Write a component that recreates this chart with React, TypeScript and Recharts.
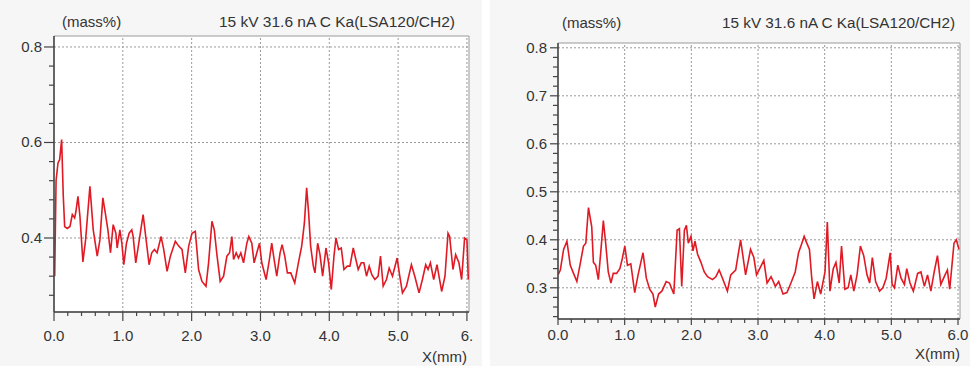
import { LineChart, Line, XAxis, YAxis, ReferenceLine, ReferenceArea } from "recharts";

// left profile (mass% vs X mm)
const leftX = [
  0.01, 0.03, 0.058, 0.082, 0.111, 0.135, 0.155, 0.193, 0.232, 0.266, 0.3, 0.319, 0.348, 0.377, 0.42, 0.459,
  0.522, 0.57, 0.628, 0.667, 0.71, 0.749, 0.783, 0.821, 0.86, 0.899, 0.918, 0.957, 0.986, 1.014, 1.053, 1.092,
  1.13, 1.15, 1.188, 1.232, 1.295, 1.333, 1.382, 1.42, 1.459, 1.498, 1.556, 1.594, 1.643, 1.691, 1.763, 1.812,
  1.86, 1.908, 1.957, 2.005, 2.053, 2.101, 2.15, 2.208, 2.246, 2.295, 2.329, 2.367, 2.415, 2.464, 2.512, 2.551,
  2.585, 2.609, 2.647, 2.681, 2.715, 2.754, 2.802, 2.831, 2.874, 2.908, 2.947, 2.986, 3.019, 3.082, 3.13, 3.164,
  3.198, 3.237, 3.285, 3.314, 3.353, 3.391, 3.44, 3.498, 3.551, 3.599, 3.638, 3.671, 3.7, 3.729, 3.768, 3.792,
  3.831, 3.865, 3.903, 3.952, 3.99, 4.029, 4.068, 4.097, 4.135, 4.174, 4.213, 4.261, 4.3, 4.348, 4.386, 4.42,
  4.464, 4.502, 4.541, 4.58, 4.618, 4.662, 4.71, 4.744, 4.783, 4.831, 4.87, 4.918, 4.986, 5.024, 5.063, 5.121,
  5.193, 5.242, 5.304, 5.353, 5.401, 5.435, 5.469, 5.517, 5.565, 5.594, 5.633, 5.681, 5.725, 5.749, 5.797, 5.836,
  5.884, 5.923, 5.966, 6.0, 6.02,
];
const leftY = [
  0.32, 0.52, 0.557, 0.564, 0.606, 0.487, 0.424, 0.42, 0.424, 0.449, 0.442, 0.456, 0.487, 0.445, 0.35, 0.396,
  0.508, 0.417, 0.362, 0.396, 0.484, 0.449, 0.417, 0.369, 0.428, 0.41, 0.379, 0.417, 0.389, 0.344, 0.389, 0.41,
  0.417, 0.403, 0.348, 0.389, 0.449, 0.403, 0.344, 0.369, 0.376, 0.369, 0.403, 0.376, 0.33, 0.362, 0.393, 0.383,
  0.376, 0.327, 0.383, 0.41, 0.414, 0.334, 0.309, 0.299, 0.348, 0.435, 0.417, 0.365, 0.309, 0.32, 0.362, 0.369,
  0.403, 0.355, 0.369, 0.358, 0.369, 0.348, 0.389, 0.403, 0.389, 0.348, 0.369, 0.389, 0.348, 0.313, 0.355, 0.389,
  0.355, 0.32, 0.369, 0.386, 0.362, 0.327, 0.327, 0.306, 0.348, 0.383, 0.431, 0.505, 0.452, 0.383, 0.341, 0.327,
  0.389, 0.365, 0.32, 0.379, 0.348, 0.292, 0.362, 0.4, 0.376, 0.379, 0.334, 0.341, 0.341, 0.379, 0.355, 0.334,
  0.348, 0.348, 0.32, 0.341, 0.323, 0.313, 0.32, 0.362, 0.299, 0.313, 0.337, 0.32, 0.358, 0.32, 0.285, 0.299,
  0.344, 0.32, 0.285, 0.313, 0.344, 0.334, 0.348, 0.313, 0.344, 0.32, 0.288, 0.32, 0.41, 0.403, 0.334, 0.365,
  0.348, 0.313, 0.4, 0.396, 0.313,
];

// right profile
const rightX = [
  0, 0.035, 0.084, 0.134, 0.184, 0.233, 0.283, 0.333, 0.382, 0.417, 0.457, 0.481, 0.506, 0.531, 0.566, 0.605,
  0.645, 0.68, 0.715, 0.754, 0.794, 0.829, 0.878, 0.928, 0.963, 1.002, 1.042, 1.092, 1.151, 1.201, 1.275, 1.325,
  1.375, 1.424, 1.459, 1.509, 1.558, 1.623, 1.672, 1.737, 1.787, 1.821, 1.856, 1.896, 1.926, 1.955, 1.995, 2.025,
  2.055, 2.094, 2.144, 2.194, 2.243, 2.318, 2.367, 2.417, 2.467, 2.541, 2.591, 2.665, 2.739, 2.814, 2.888, 2.938,
  2.978, 3.037, 3.087, 3.136, 3.196, 3.261, 3.31, 3.375, 3.434, 3.494, 3.558, 3.608, 3.658, 3.692, 3.732, 3.772,
  3.806, 3.841, 3.891, 3.94, 4.005, 4.04, 4.079, 4.129, 4.169, 4.218, 4.253, 4.303, 4.352, 4.392, 4.437, 4.486,
  4.536, 4.586, 4.635, 4.675, 4.715, 4.764, 4.824, 4.873, 4.923, 4.983, 5.012, 5.047, 5.097, 5.146, 5.196, 5.231,
  5.28, 5.33, 5.395, 5.444, 5.496, 5.543, 5.593, 5.643, 5.692, 5.742, 5.806, 5.841, 5.876, 5.94, 5.975, 6.015,
];
const rightY = [
  0.327, 0.337, 0.38, 0.397, 0.347, 0.33, 0.313, 0.35, 0.387, 0.393, 0.467, 0.447, 0.427, 0.353, 0.347, 0.317,
  0.38, 0.44, 0.393, 0.333, 0.31, 0.33, 0.33, 0.34, 0.36, 0.387, 0.347, 0.35, 0.29, 0.327, 0.373, 0.32,
  0.297, 0.287, 0.26, 0.287, 0.293, 0.313, 0.31, 0.287, 0.42, 0.423, 0.303, 0.42, 0.43, 0.393, 0.407, 0.377,
  0.397, 0.37, 0.353, 0.333, 0.323, 0.317, 0.323, 0.337, 0.32, 0.293, 0.327, 0.337, 0.4, 0.327, 0.38, 0.363,
  0.327, 0.343, 0.357, 0.31, 0.323, 0.303, 0.313, 0.287, 0.29, 0.31, 0.333, 0.373, 0.393, 0.407, 0.393, 0.38,
  0.32, 0.277, 0.313, 0.287, 0.333, 0.437, 0.293, 0.34, 0.353, 0.31, 0.387, 0.297, 0.3, 0.327, 0.293, 0.327,
  0.387, 0.367, 0.327, 0.31, 0.363, 0.313, 0.293, 0.3, 0.32, 0.373, 0.307, 0.3, 0.347, 0.32, 0.307, 0.34,
  0.31, 0.293, 0.33, 0.333, 0.303, 0.327, 0.293, 0.333, 0.367, 0.307, 0.327, 0.337, 0.297, 0.393, 0.4, 0.38,
];

const xTicks = [
  0, 0.2, 0.4, 0.6, 0.8, 1, 1.2, 1.4, 1.6, 1.8, 2, 2.2, 2.4, 2.6, 2.8, 3, 3.2, 3.4, 3.6, 3.8, 4, 4.2, 4.4, 4.6,
  4.8, 5, 5.2, 5.4, 5.6, 5.8, 6,
];
const xMajor = [0, 1, 2, 3, 4, 5, 6];
const leftXLabels = ["0.0", "1.0", "2.0", "3.0", "4.0", "5.0", "6."];
const rightXLabels = ["0.0", "1.0", "2.0", "3.0", "4.0", "5.0", "6.0"];

const leftYTicks = [0.28, 0.32, 0.36, 0.4, 0.44, 0.48, 0.52, 0.56, 0.6, 0.64, 0.68, 0.72, 0.76, 0.8];
const leftYMajor = [0.4, 0.6, 0.8];
const leftYLabels = ["0.4", "0.6", "0.8"];

const rightYTicks = [
  0.24, 0.26, 0.28, 0.3, 0.32, 0.34, 0.36, 0.38, 0.4, 0.42, 0.44, 0.46, 0.48, 0.5, 0.52, 0.54, 0.56, 0.58, 0.6,
  0.62, 0.64, 0.66, 0.68, 0.7, 0.72, 0.74, 0.76, 0.78, 0.8,
];
const rightYMajor = [0.3, 0.4, 0.5, 0.6, 0.7, 0.8];
const rightYLabels = ["0.3", "0.4", "0.5", "0.6", "0.7", "0.8"];

const titleText = "15 kV 31.6 nA C Ka(LSA120/CH2)";
const unitText = "(mass%)";
const xTitle = "X(mm)";

const FONT = '"Liberation Sans", Arial, sans-serif';
const TXT = "#333";
const AXIS = "#444";
const RED = "#e01a24";

const near = (a: number, b: number) => Math.abs(a - b) < 1e-6;

function Panel(props: any) {
  const { xs, ys, xDomain, yDomain, yTicks, yMajor, yLabels, xLabels, w, h, m, yw, xh, xTickLen, xLabDy, yTickLen, yLabDx } = props;
  const data = xs.map((x: number, i: number) => ({ x, y: ys[i] }));

  const XTick = (p: any) => {
    const v = p.payload.value;
    const idx = xMajor.findIndex((t) => near(t, v));
    const major = idx >= 0;
    return (
      <g>
        <line x1={p.x} x2={p.x} y1={p.y} y2={p.y + (major ? xTickLen : 4)} stroke={AXIS} strokeWidth={1.2} />
        {major && (
          <text x={p.x} y={p.y + xLabDy} textAnchor="middle" fontSize={15} fill={TXT} fontFamily={FONT}>
            {xLabels[idx]}
          </text>
        )}
      </g>
    );
  };

  const YTick = (p: any) => {
    const v = p.payload.value;
    const idx = yMajor.findIndex((t: number) => near(t, v));
    const major = idx >= 0;
    return (
      <g>
        <line x1={p.x - (major ? yTickLen : 5)} x2={p.x} y1={p.y} y2={p.y} stroke={AXIS} strokeWidth={1.2} />
        {major && (
          <text x={p.x - yLabDx} y={p.y + 5} textAnchor="end" fontSize={15} fill={TXT} fontFamily={FONT}>
            {yLabels[idx]}
          </text>
        )}
      </g>
    );
  };

  return (
    <LineChart width={w} height={h} data={data} margin={m}>
      <XAxis
        dataKey="x"
        type="number"
        domain={xDomain}
        allowDataOverflow
        ticks={xTicks}
        interval={0}
        tickSize={0}
        tickMargin={0}
        tickLine={false}
        tick={XTick}
        height={xh}
        axisLine={{ stroke: AXIS, strokeWidth: 1.5 }}
      />
      <YAxis
        type="number"
        domain={yDomain}
        allowDataOverflow
        ticks={yTicks}
        interval={0}
        tickSize={0}
        tickMargin={0}
        tickLine={false}
        tick={YTick}
        width={yw}
        axisLine={{ stroke: AXIS, strokeWidth: 1.5 }}
      />
      <ReferenceArea x1={xDomain[0]} x2={xDomain[1]} y1={yDomain[0]} y2={yDomain[1]} fill="#fff" fillOpacity={1} stroke="#9a9a9a" />
      {xMajor.slice(1).map((v) => (
        <ReferenceLine key={"vx" + v} x={v} stroke="#999" strokeDasharray="2 2" />
      ))}
      {yMajor.map((v: number) => (
        <ReferenceLine key={"hy" + v} y={v} stroke="#999" strokeDasharray="2 2" />
      ))}
      <Line type="linear" dataKey="y" stroke={RED} strokeWidth={1.6} dot={false} isAnimationActive={false} />
    </LineChart>
  );
}

const txt = (extra: any) => ({
  position: "absolute" as const,
  fontFamily: FONT,
  fontSize: 15,
  lineHeight: "15px",
  color: TXT,
  whiteSpace: "nowrap" as const,
  ...extra,
});

export default function App() {
  return (
    <div style={{ position: "absolute", left: 0, top: 0, width: 970, height: 366, background: "#fff", overflow: "hidden" }}>
      <div style={{ position: "absolute", left: 0, top: 0, width: 482, height: 366, background: "#f6f6f6" }}>
        <Panel
          xs={leftX}
          ys={leftY}
          xDomain={[0, 6.03]}
          yDomain={[0.245, 0.823]}
          yTicks={leftYTicks}
          yMajor={leftYMajor}
          yLabels={leftYLabels}
          xLabels={leftXLabels}
          w={482}
          h={366}
          m={{ top: 36, right: 13, left: 0, bottom: 0 }}
          yw={54}
          xh={54}
          xTickLen={9}
          xLabDy={29}
          yTickLen={10}
          yLabDx={12}
        />
        <div style={txt({ left: 62, top: 14 })}>{unitText}</div>
        <div style={txt({ right: 482 - 455, top: 14, fontSize: 15.5 })}>{titleText}</div>
        <div style={txt({ right: 482 - 467, top: 349 })}>{xTitle}</div>
      </div>
      <div style={{ position: "absolute", left: 490, top: 0, width: 480, height: 366, background: "#f6f6f6" }}>
        <Panel
          xs={rightX}
          ys={rightY}
          xDomain={[0, 6.03]}
          yDomain={[0.235, 0.81]}
          yTicks={rightYTicks}
          yMajor={rightYMajor}
          yLabels={rightYLabels}
          xLabels={rightXLabels}
          w={480}
          h={366}
          m={{ top: 43, right: 10, left: 0, bottom: 0 }}
          yw={68}
          xh={47}
          xTickLen={6}
          xLabDy={21}
          yTickLen={8}
          yLabDx={11}
        />
        <div style={txt({ left: 562 - 490, top: 15 })}>{unitText}</div>
        <div style={txt({ right: 970 - 955, top: 15, fontSize: 15.3 })}>{titleText}</div>
        <div style={txt({ right: 970 - 960, top: 346 })}>{xTitle}</div>
      </div>
    </div>
  );
}
